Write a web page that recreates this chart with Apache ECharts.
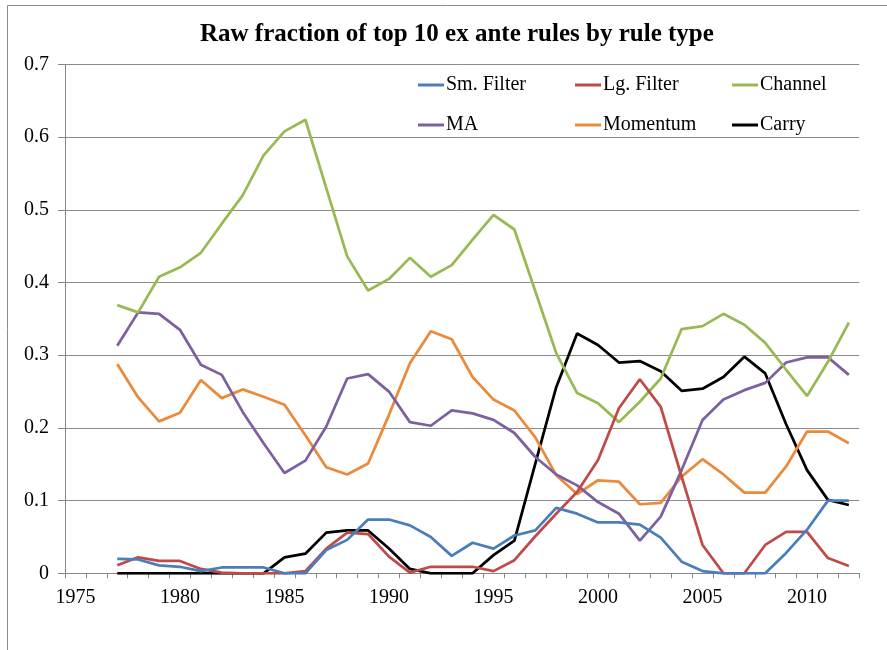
<!DOCTYPE html>
<html>
<head>
<meta charset="utf-8">
<script src="https://cdn.jsdelivr.net/npm/echarts@6/dist/echarts.min.js"></script>
<style>
  html, body { margin: 0; padding: 0; background: #fff; }
  #chart { width: 887px; height: 650px; }
</style>
</head>
<body>
<div id="chart"></div>
<script>
// years 1975..2012, data only from 1977
const years = []
for (let y = 1975; y <= 2012; y++) years.push(String(y))

const smFilter = [null, null,
  0.020, 0.019, 0.011, 0.009, 0.003, 0.008, 0.008, 0.008, 0.000, 0.000,
  0.032, 0.046, 0.074, 0.074, 0.066, 0.050, 0.024, 0.042, 0.034, 0.052,
  0.059, 0.090, 0.082, 0.070, 0.070, 0.067, 0.049, 0.016, 0.003, 0.000,
  0.000, 0.000, 0.028, 0.060, 0.100, 0.100]
const lgFilter = [null, null,
  0.011, 0.022, 0.017, 0.017, 0.006, 0.001, 0.000, 0.000, 0.000, 0.003,
  0.034, 0.056, 0.054, 0.023, 0.001, 0.009, 0.009, 0.009, 0.003, 0.018,
  0.051, 0.082, 0.112, 0.156, 0.227, 0.267, 0.229, 0.133, 0.039, 0.000,
  0.000, 0.039, 0.057, 0.057, 0.021, 0.010]
const channel = [null, null,
  0.369, 0.359, 0.408, 0.421, 0.441, 0.481, 0.520, 0.575, 0.608, 0.624,
  0.530, 0.436, 0.389, 0.405, 0.434, 0.408, 0.424, 0.459, 0.493, 0.473,
  0.388, 0.303, 0.248, 0.234, 0.208, 0.236, 0.268, 0.336, 0.340, 0.357,
  0.342, 0.317, 0.280, 0.244, 0.291, 0.345]
const ma = [null, null,
  0.313, 0.359, 0.357, 0.335, 0.287, 0.273, 0.222, 0.179, 0.138, 0.155,
  0.202, 0.268, 0.274, 0.250, 0.208, 0.203, 0.224, 0.220, 0.211, 0.193,
  0.160, 0.136, 0.121, 0.098, 0.082, 0.045, 0.078, 0.142, 0.211, 0.239,
  0.252, 0.262, 0.290, 0.297, 0.297, 0.273]
const momentum = [null, null,
  0.288, 0.242, 0.209, 0.221, 0.266, 0.241, 0.253, 0.243, 0.232, 0.190,
  0.146, 0.136, 0.151, 0.218, 0.289, 0.333, 0.322, 0.270, 0.239, 0.224,
  0.187, 0.135, 0.109, 0.128, 0.126, 0.095, 0.097, 0.133, 0.157, 0.136,
  0.111, 0.111, 0.147, 0.195, 0.195, 0.179]
const carry = [null, null,
  0.000, 0.000, 0.000, 0.000, 0.000, 0.000, 0.000, 0.000, 0.022, 0.027,
  0.056, 0.059, 0.059, 0.034, 0.006, 0.000, 0.000, 0.000, 0.025, 0.045,
  0.151, 0.256, 0.330, 0.314, 0.290, 0.292, 0.278, 0.251, 0.254, 0.270,
  0.298, 0.275, 0.205, 0.142, 0.101, 0.094]

const seriesNames = ['Sm. Filter', 'Lg. Filter', 'Channel', 'MA', 'Momentum', 'Carry']
const seriesData = [smFilter, lgFilter, channel, ma, momentum, carry]
const colors = ['#4A7EBB', '#BE4B48', '#98B954', '#7D60A0', '#EB8A3A', '#000000']

const font = '"Liberation Serif", "Times New Roman", serif'

// legend laid out in 2 rows x 3 columns inside the plot
const legendLeft = [418, 575, 732]
const legendTop = [75, 115]
const legends = seriesNames.map((name, i) => ({
  data: [name],
  left: legendLeft[i % 3],
  top: legendTop[Math.floor(i / 3)],
  padding: 0,
  icon: 'rect',
  itemWidth: 26,
  itemHeight: 3,
  textStyle: { fontFamily: font, fontSize: 20, color: '#000', padding: [0, 0, 0, -3] }
}))

var myChart = echarts.init(document.getElementById('chart'))

const option = {
  backgroundColor: '#fff',
  animation: false,
  color: colors,
  title: {
    text: 'Raw fraction of top 10 ex ante rules by rule type',
    left: 195,
    top: 17,
    textStyle: { fontFamily: font, fontSize: 25, fontWeight: 'bold', color: '#000' }
  },
  graphic: [{
    type: 'rect',
    shape: { x: 7.5, y: 5.5, width: 900, height: 700 },
    style: { fill: 'none', stroke: '#8c8c8c', lineWidth: 1 },
    silent: true
  }],
  legend: legends,
  grid: {
    left: 65,
    right: 27.7,
    top: 64.5,
    bottom: 76.7
  },
  xAxis: {
    type: 'category',
    data: years,
    boundaryGap: true,
    axisLine: { lineStyle: { color: '#868686', width: 1 } },
    axisTick: { show: true, interval: 0, length: 5, lineStyle: { color: '#868686' } },
    axisLabel: {
      interval: 4,
      margin: 14,
      fontFamily: font,
      fontSize: 20,
      color: '#000'
    },
    splitLine: { show: false }
  },
  yAxis: {
    type: 'value',
    min: 0,
    max: 0.7,
    interval: 0.1,
    axisLine: { show: true, lineStyle: { color: '#868686', width: 1 } },
    axisTick: { show: true, length: 7, lineStyle: { color: '#868686' } },
    axisLabel: {
      margin: 16,
      fontFamily: font,
      fontSize: 20,
      color: '#000',
      formatter: v => (v === 0 ? '0' : v.toFixed(1))
    },
    splitLine: { show: true, lineStyle: { color: '#8c8c8c', width: 1 } }
  },
  series: seriesNames.map((name, i) => ({
    name: name,
    type: 'line',
    data: seriesData[i],
    symbol: 'none',
    connectNulls: false,
    lineStyle: { width: 2.75, color: colors[i] },
    itemStyle: { color: colors[i] },
    z: 10 - i
  }))
}

myChart.setOption(option)
</script>
</body>
</html>
